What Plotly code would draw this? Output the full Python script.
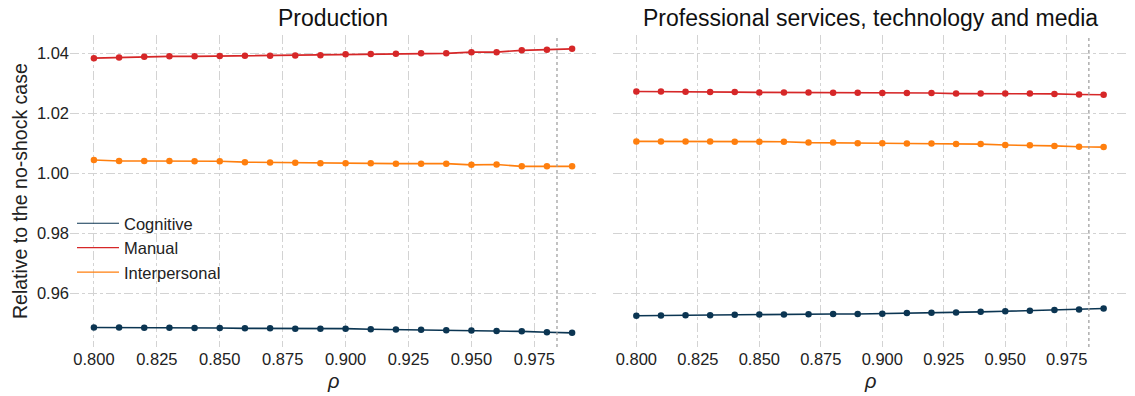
import plotly.graph_objects as go

# Elasticity grid (rho) shared by both sectors
rho = [0.80, 0.81, 0.82, 0.83, 0.84, 0.85, 0.86, 0.87, 0.88, 0.89,
       0.90, 0.91, 0.92, 0.93, 0.94, 0.95, 0.96, 0.97, 0.98, 0.99]

# Baseline rho marked by the vertical reference line
rho_baseline = 0.984

# Production sector, relative to the no-shock case
prod_cognitive = [0.9487, 0.9487, 0.9486, 0.9486, 0.9485, 0.9485, 0.9484, 0.9484, 0.9483, 0.9483,
                  0.9483, 0.9481, 0.9480, 0.9479, 0.9478, 0.9477, 0.9475, 0.9474, 0.9471, 0.9469]
prod_manual = [1.0383, 1.0385, 1.0388, 1.0389, 1.0389, 1.0390, 1.0391, 1.0391, 1.0392, 1.0393,
               1.0396, 1.0397, 1.0398, 1.0399, 1.0399, 1.0403, 1.0403, 1.0409, 1.0411, 1.0414]
prod_interpersonal = [1.0044, 1.0041, 1.0041, 1.0041, 1.0040, 1.0040, 1.0037, 1.0036, 1.0035, 1.0033,
                      1.0033, 1.0033, 1.0032, 1.0032, 1.0032, 1.0028, 1.0029, 1.0023, 1.0023, 1.0023]

# Professional services, technology and media sector
prof_cognitive = [0.9526, 0.9527, 0.9528, 0.9528, 0.9529, 0.9530, 0.9530, 0.9531, 0.9532, 0.9532,
                  0.9533, 0.9535, 0.9536, 0.9537, 0.9539, 0.9541, 0.9543, 0.9545, 0.9547, 0.9550]
prof_manual = [1.0272, 1.0272, 1.0271, 1.0270, 1.0270, 1.0269, 1.0269, 1.0269, 1.0268, 1.0268,
               1.0267, 1.0267, 1.0267, 1.0265, 1.0265, 1.0265, 1.0265, 1.0264, 1.0262, 1.0261]
prof_interpersonal = [1.0106, 1.0106, 1.0106, 1.0106, 1.0105, 1.0105, 1.0105, 1.0102, 1.0102, 1.0100,
                      1.0100, 1.0099, 1.0099, 1.0097, 1.0097, 1.0094, 1.0093, 1.0091, 1.0088, 1.0087]

series_names = ["Cognitive", "Manual", "Interpersonal"]
series_colors = ["#0b3552", "#d62728", "#ff7f0e"]
panel_titles = ["Production", "Professional services, technology and media"]
panels = [
    [prod_cognitive, prod_manual, prod_interpersonal],
    [prof_cognitive, prof_manual, prof_interpersonal],
]

x_ticks = [0.800, 0.825, 0.850, 0.875, 0.900, 0.925, 0.950, 0.975]
y_ticks = [0.96, 0.98, 1.00, 1.02, 1.04]

W, H = 1135, 396
FONT = "Liberation Sans, Arial, sans-serif"

fig = go.Figure()

axis_names = [("x", "y"), ("x2", "y2")]
for (xa, ya), panel in zip(axis_names, panels):
    for name, color, values in zip(series_names, series_colors, panel):
        fig.add_trace(go.Scatter(
            x=rho, y=values, mode="lines+markers", name=name,
            line=dict(color=color, width=1.6),
            marker=dict(color=color, size=6.5),
            xaxis=xa, yaxis=ya, showlegend=False,
        ))

# Line-only legend entries
for name, color in zip(series_names, series_colors):
    fig.add_trace(go.Scatter(
        x=[None], y=[None], mode="lines", name=name,
        line=dict(color=color, width=1.2), xaxis="x", yaxis="y",
    ))

# Baseline rho marker in each panel
for xa in ["x", "x2"]:
    fig.add_shape(type="line", xref=xa, yref="paper",
                  x0=rho_baseline, x1=rho_baseline, y0=1 - 347 / H, y1=1 - 35 / H,
                  line=dict(color="#9a9a9a", width=1.2, dash="dot"))

grid = dict(showgrid=True, gridcolor="#d3d3d3", gridwidth=1, griddash="dashdot",
            zeroline=False, showline=False, ticks="")

xcommon = dict(grid, range=[0.7905, 0.9995], tickvals=x_ticks, tickformat=".3f",
               tickfont=dict(family=FONT, size=16.5, color="#222"))
ycommon = dict(grid, range=[0.9422, 1.0460], tickvals=y_ticks, tickformat=".2f",
               domain=[1 - 347 / H, 1 - 35 / H],
               tickfont=dict(family=FONT, size=16.5, color="#222"))

fig.update_layout(
    width=W, height=H,
    margin=dict(l=0, r=0, t=0, b=0),
    paper_bgcolor="white", plot_bgcolor="white",
    font=dict(family=FONT, color="#222"),
    xaxis=dict(xcommon, domain=[70 / W, 596 / W], anchor="y"),
    xaxis2=dict(xcommon, domain=[613 / W, 1127 / W], anchor="y2"),
    yaxis=dict(ycommon, anchor="x"),
    yaxis2=dict(ycommon, anchor="x2", matches="y", showticklabels=False),
    legend=dict(x=72 / W, y=1 - 206 / H, xanchor="left", yanchor="top",
                bgcolor="rgba(255,255,255,0)", font=dict(family=FONT, size=16.5, color="#222"),
                itemwidth=42, tracegroupgap=0),
    showlegend=True,
)

# Panel titles and axis labels
annotations = [
    dict(text=panel_titles[0], x=333 / W, y=1 - 18 / H),
    dict(text=panel_titles[1], x=870 / W, y=1 - 18 / H),
]
for a in annotations:
    a.update(xref="paper", yref="paper", showarrow=False, xanchor="center", yanchor="middle",
             font=dict(family=FONT, size=23, color="#111"))
for cx in [333 / W, 870 / W]:
    annotations.append(dict(text="<i>ρ</i>", x=cx, y=1 - 381 / H, xref="paper", yref="paper",
                            showarrow=False, xanchor="center", yanchor="middle",
                            font=dict(family=FONT, size=20, color="#222")))
annotations.append(dict(text="Relative to the no-shock case", x=20 / W, y=1 - 191 / H,
                        xref="paper", yref="paper", showarrow=False, textangle=-90,
                        xanchor="center", yanchor="middle",
                        font=dict(family=FONT, size=19.5, color="#222")))
fig.update_layout(annotations=annotations)

fig.write_html("out.html")
